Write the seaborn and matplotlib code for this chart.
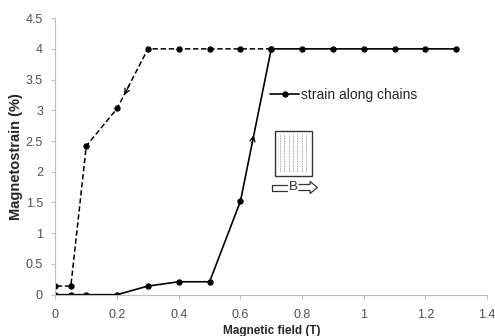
import numpy as np
import pandas as pd
import matplotlib
matplotlib.use("Agg")
import matplotlib.pyplot as plt
from matplotlib.patches import Rectangle, Polygon
from matplotlib.lines import Line2D
import seaborn as sns

# increasing field (solid, "strain along chains")
field_up  = [0, 0.05, 0.1, 0.2, 0.3, 0.4, 0.5, 0.6, 0.7, 0.8, 0.9, 1.0, 1.1, 1.2, 1.3]
strain_up = [0, 0, 0, 0, 0.14, 0.21, 0.21, 1.52, 4.0, 4.0, 4.0, 4.0, 4.0, 4.0, 4.0]

# decreasing field (dashed)
field_down  = [0.7, 0.6, 0.5, 0.4, 0.3, 0.2, 0.1, 0.05, 0]
strain_down = [4.0, 4.0, 4.0, 4.0, 4.0, 3.03, 2.42, 0.14, 0.14]

x_ticks = [0, 0.2, 0.4, 0.6, 0.8, 1, 1.2, 1.4]
y_ticks = [0, 0.5, 1, 1.5, 2, 2.5, 3, 3.5, 4, 4.5]

sns.set_style("white")
plt.rcParams["font.family"] = ["Liberation Sans", "DejaVu Sans"]

up = pd.DataFrame({"field": field_up, "strain": strain_up})
down = pd.DataFrame({"field": field_down, "strain": strain_down})

fig = plt.figure(figsize=(4.95, 3.36), dpi=100)
ax = fig.add_axes([0.112, 0.123, 0.872, 0.823])

sns.lineplot(data=down, x="field", y="strain", sort=False, ax=ax, color="black",
             linestyle=(0, (3.5, 1.8)), lw=1.1, marker="o", markersize=3.8,
             markeredgecolor="black")
sns.lineplot(data=up, x="field", y="strain", sort=False, ax=ax, color="black",
             lw=1.2, marker="o", markersize=3.8, markeredgecolor="black",
             label="strain along chains")

# direction arrows on the branches
ax.annotate("", xy=(0.219, 3.21), xytext=(0.245, 3.46),
            arrowprops=dict(arrowstyle="->", color="black", lw=0.9, mutation_scale=9))
ax.annotate("", xy=(0.645, 2.64), xytext=(0.636, 2.42),
            arrowprops=dict(arrowstyle="->", color="black", lw=0.9, mutation_scale=9))

ax.set_xlim(0, 1.4)
ax.set_ylim(0, 4.5)
ax.set_xticks(x_ticks)
ax.set_xticklabels([f"{t:g}" for t in x_ticks])
ax.set_yticks(y_ticks)
ax.set_yticklabels([f"{t:g}" for t in y_ticks])
ax.tick_params(axis="both", labelsize=9, labelcolor="#505050", length=3,
               direction="out", bottom=True, left=True, width=0.8, color="#bfbfbf")
ax.tick_params(axis="x", pad=7.5)
ax.tick_params(axis="y", pad=6)
for s in ["top", "right"]:
    ax.spines[s].set_visible(False)
for s in ["left", "bottom"]:
    ax.spines[s].set_color("#bfbfbf")
    ax.spines[s].set_linewidth(0.8)

ax.set_xlabel("Magnetic field (T)", fontsize=8.5, fontweight="bold", labelpad=2.5)
ax.set_ylabel("Magnetostrain (%)", fontsize=10.5, fontweight="bold", labelpad=2)

ax.legend(loc="center left", bbox_to_anchor=(0.497, 0.722), frameon=False,
          fontsize=10, handlelength=2.1, handletextpad=0.1, borderpad=0,
          borderaxespad=0)

# inset sketch: sample with chains and field direction
tr = fig.transFigure
def fx(px):
    return px / 495
def fy(py):
    return 1 - py / 336

fig.patches.append(Rectangle((fx(275), fy(175.5)), fx(311.5) - fx(275), fy(131) - fy(175.5),
                             transform=tr, fill=False, ec="#333333", lw=1.0))
for px in np.linspace(280, 306, 7):
    fig.lines.append(Line2D([fx(px), fx(px)], [fy(134), fy(172.5)], transform=tr,
                            color="#888888", lw=0.6, linestyle=(0, (1, 1))))
# open bar on the left
fig.lines.append(Line2D([fx(287), fx(271.5), fx(271.5), fx(287)],
                        [fy(184.5), fy(184.5), fy(190.5), fy(190.5)],
                        transform=tr, color="#333333", lw=0.9))
fig.text(fx(293), fy(187.5), "B", fontsize=9.5, ha="center", va="center", color="#333333")
# hollow arrow on the right
arrow_px = [(298.5, 184.5), (310, 184.5), (310, 181.5), (317.5, 187.5), (310, 193.5),
            (310, 190.5), (298.5, 190.5)]
fig.patches.append(Polygon([(fx(a), fy(b)) for a, b in arrow_px], closed=False,
                           transform=tr, fill=False, ec="#333333", lw=0.9))

fig.savefig("out.png", dpi=100)
